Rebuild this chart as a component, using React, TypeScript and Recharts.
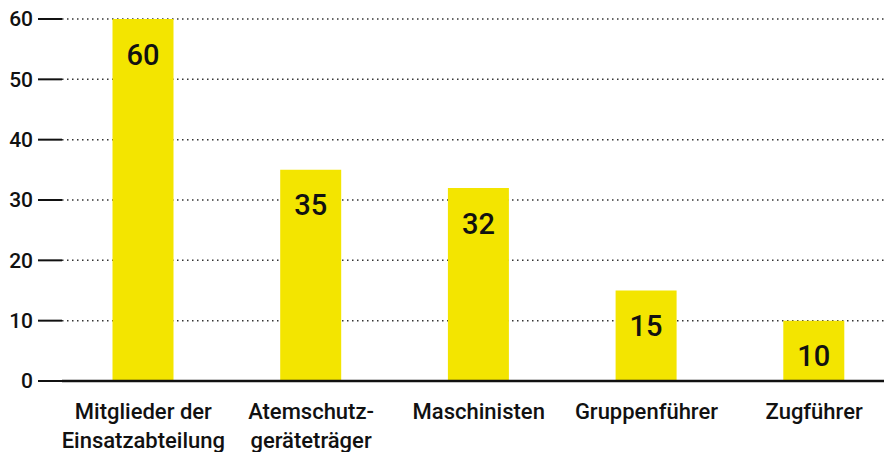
import { BarChart, Bar, XAxis, YAxis, CartesianGrid, LabelList } from 'recharts';

const categories = [
  'Mitglieder der\nEinsatzabteilung',
  'Atemschutz-\ngeräteträger',
  'Maschinisten',
  'Gruppenführer',
  'Zugführer',
];
const values = [60, 35, 32, 15, 10];
const yTicks = [0, 10, 20, 30, 40, 50, 60];

const data = categories.map((name, i) => ({ name, value: values[i] }));

const FONT = 'Roboto, "Noto Sans", sans-serif';
const INK = '#111111';
const YELLOW = '#F3E500';

function CategoryTick({ x, y, payload }: any) {
  const lines = String(payload.value).split('\n');
  return (
    <text x={x} y={y} textAnchor="middle" fill={INK} fontSize={22} fontWeight={500} fontFamily={FONT}>
      {lines.map((l, i) => (
        <tspan key={i} x={x} dy={i === 0 ? 38 : 28.5}>{l}</tspan>
      ))}
    </text>
  );
}

export default function App() {
  return (
    <div style={{ width: 884, height: 452, overflow: 'hidden', position: 'relative' }}>
      <style>{'body{margin:0;overflow:hidden}'}</style>
      <BarChart
        width={898}
        height={452}
        data={data}
        margin={{ top: 19, right: 0, bottom: 0, left: 0 }}
        barSize={61}
      >
        <CartesianGrid vertical={false} stroke="#333" strokeWidth={1.5} strokeDasharray="1.5 3.5" />
        <YAxis
          width={62}
          domain={[0, 60]}
          ticks={yTicks}
          axisLine={false}
          tickSize={24}
          tickMargin={5}
          tickLine={{ stroke: INK, strokeWidth: 2 }}
          tick={{ fill: INK, fontSize: 21, fontWeight: 500, fontFamily: FONT }}
        />
        <XAxis
          dataKey="name"
          height={71}
          padding={{ left: -2.5, right: 0 }}
          tickLine={false}
          tickSize={0}
          tickMargin={0}
          axisLine={{ stroke: INK, strokeWidth: 2.5 }}
          tick={<CategoryTick />}
          interval={0}
        />
        <Bar dataKey="value" fill={YELLOW} isAnimationActive={false}>
          <LabelList
            dataKey="value"
            position="insideTop"
            offset={25}
            fill={INK}
            fontSize={29}
            fontWeight={500}
            fontFamily={FONT}
          />
        </Bar>
      </BarChart>
    </div>
  );
}
